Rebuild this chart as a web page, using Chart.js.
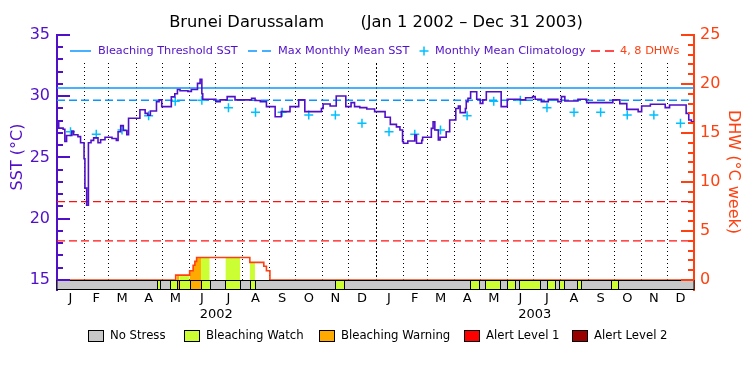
<!DOCTYPE html>
<html>
<head>
<meta charset="utf-8">
<script src="https://cdn.jsdelivr.net/npm/chart.js@4.4.0/dist/chart.umd.min.js"></script>
<style>
  html, body { margin: 0; padding: 0; background: #fff; }
  #wrap { width: 750px; height: 375px; }
</style>
</head>
<body>
<div id="wrap"><canvas id="chart" width="750" height="375"></canvas></div>
<script>
// ---- data ----
const titleText = 'Brunei Darussalam       (Jan 1 2002 \u2013 Dec 31 2003)';
const monthLetters = ['J', 'F', 'M', 'A', 'M', 'J', 'J', 'A', 'S', 'O', 'N', 'D'];
const yearLabels = ['2002', '2003'];
const sstTicks = [15, 20, 25, 30, 35];
const dhwTicks = [0, 5, 10, 15, 20, 25];

// monthly mean climatology (same each year)
const climatology = [27.1, 26.9, 27.25, 28.4, 29.6, 29.67, 29.07, 28.7, 28.7, 28.47, 28.47, 27.8];
const maxMonthlyMean = 29.67;
const bleachingThreshold = 30.67;
const dhwLevels = [4, 8];

// SST (day since Jan 1 2002, value holding from that day)
const sstDays = [0, 2, 7, 9, 11, 17, 19, 24, 27, 31, 32, 34, 36, 39, 42, 47, 50, 55, 63, 68,
  70, 73, 76, 80, 82, 95, 101, 104, 107, 114, 117, 120, 131, 135, 138, 141, 150, 154, 161, 164,
  166, 167, 182, 187, 195, 204, 223, 227, 233, 240, 250, 257, 267, 277, 284, 303, 305, 313, 320, 331,
  337, 341, 347, 355, 364, 376, 382, 389, 393, 396, 397, 402, 410, 412, 418, 419, 429, 431, 433, 437,
  439, 446, 450, 457, 460, 462, 468, 469, 471, 474, 481, 485, 488, 492, 509, 516, 531, 537, 545, 548,
  555, 563, 574, 578, 582, 597, 607, 637, 645, 653, 666, 670, 680, 697, 702, 721, 724, 727, 730];
const sstValues = [27.9, 27.4, 27.3, 26.3, 26.8, 27.15, 26.85, 26.7, 26.2, 24.9, 22.5, 21.1, 26.2, 26.4, 26.6, 26.2, 26.45, 26.65, 26.55, 26.4,
  27.1, 27.6, 27.2, 26.85, 28.2, 28.9, 28.6, 28.45, 28.8, 29.55, 29.7, 29.15, 29.95, 30.2, 30.55, 30.45, 30.4, 30.55, 31.05, 31.38,
  30.2, 29.75, 29.56, 29.7, 29.97, 29.7, 29.84, 29.65, 29.56, 29.15, 28.33, 28.74, 29.15, 29.7, 28.74, 29.0, 29.37, 29.2, 30.02, 29.15,
  29.48, 29.15, 29.07, 28.96, 28.74, 28.28, 27.7, 27.5, 27.24, 26.3, 26.16, 26.35, 26.84, 26.16, 26.4, 26.65, 27.38, 27.92, 27.24, 26.43,
  26.65, 27.1, 28.06, 29.0, 29.2, 28.66, 29.0, 29.56, 29.84, 30.37, 29.75, 29.42, 29.7, 30.37, 29.15, 29.75, 29.7, 29.88, 29.97, 29.75,
  29.56, 29.75, 29.56, 29.97, 29.61, 29.75, 29.48, 29.7, 29.4, 28.93, 28.74, 29.2, 29.34, 29.07, 29.28, 28.6, 28.06, 27.92, 27.92];

// degree heating weeks
const dhwDays = [0, 136, 152, 156, 158, 160, 221, 237, 240, 244, 730];
const dhwValues = [0, 0.5, 0.95, 1.5, 1.9, 2.3, 1.8, 1.4, 0.95, 0, 0];

// stress level periods (1 = watch, 2 = warning); everything else is No Stress
const stressStart = [115, 130, 137, 140, 152, 165, 193, 221, 319, 473, 491, 516, 530, 561, 575, 596, 635];
const stressEnd = [118, 137, 140, 152, 165, 175, 210, 227, 329, 484, 508, 525, 553, 571, 581, 600, 643];
const stressLevel = [1, 1, 2, 1, 2, 1, 1, 1, 1, 1, 1, 1, 1, 1, 1, 1, 1];
const stressNames = ['No Stress', 'Bleaching Watch', 'Bleaching Warning', 'Alert Level 1', 'Alert Level 2'];

// ---- styles ----
const FONT = '"DejaVu Sans", sans-serif';
const PURPLE = '#5010c8';
const ORANGE = '#ff4010';
const THRESH = '#0a96ff';
const CLIM = '#00c0ff';
const RED = '#ff1010';
const stressColors = ['#c8c8c8', '#ccff33', '#ffaa00', '#ff0000', '#990000'];

// calendar helpers
const day0 = Date.UTC(2002, 0, 1);
const monthStarts = [];
for (let m = 0; m <= 24; m++) monthStarts.push((Date.UTC(2002, m, 1) - day0) / 86400000);
const totalDays = monthStarts[24];
const monthMids = monthStarts.slice(0, 24).map((d, i) => (d + monthStarts[i + 1]) / 2);
const yearMids = [0, 1].map(y => (monthStarts[y * 12] + monthStarts[y * 12 + 12]) / 2);

function dhwAt(t) {
  let v = 0;
  for (let i = 0; i < dhwDays.length; i++) if (dhwDays[i] <= t) v = dhwValues[i];
  return v;
}
function dhwBefore(t) {
  let v = 0;
  for (let i = 0; i < dhwDays.length; i++) if (dhwDays[i] < t) v = dhwValues[i];
  return v;
}

const sstData = sstDays.map((d, i) => ({ x: d, y: sstValues[i] }));
const dhwData = dhwDays.map((d, i) => ({ x: d, y: dhwValues[i] }));
const climData = monthMids.map((d, i) => ({ x: d, y: climatology[i % 12] }));

// fills under the DHW curve, coloured by stress level
const fillSets = stressStart.map((s, i) => {
  const e = stressEnd[i];
  const pts = [{ x: s, y: dhwAt(s) }];
  dhwDays.forEach((d, j) => { if (d > s && d < e) pts.push({ x: d, y: dhwValues[j] }); });
  pts.push({ x: e, y: dhwBefore(e) });
  return {
    type: 'line', data: pts, yAxisID: 'yDHW', stepped: true, fill: 'origin',
    backgroundColor: stressColors[stressLevel[i]], borderWidth: 0, pointRadius: 0, order: 10
  };
});

function flatLine(v) {
  return [{ x: 0, y: v }, { x: totalDays, y: v }];
}

const datasets = [
  { label: 'SST', data: sstData, yAxisID: 'ySST', stepped: true, borderColor: PURPLE, borderWidth: 1.6, pointRadius: 0, fill: false, order: 1 },
  { label: 'Monthly Mean Climatology', data: climData, yAxisID: 'ySST', showLine: false, pointStyle: 'cross', pointRadius: 4.5, pointBorderWidth: 1.5, pointBorderColor: CLIM, order: 2 },
  { label: 'DHW', data: dhwData, yAxisID: 'yDHW', stepped: true, borderColor: ORANGE, borderWidth: 1.6, pointRadius: 0, fill: false, order: 3 },
  { label: 'Bleaching Threshold SST', data: flatLine(bleachingThreshold), yAxisID: 'ySST', borderColor: THRESH, borderWidth: 1.5, pointRadius: 0, order: 4 },
  { label: 'Max Monthly Mean SST', data: flatLine(maxMonthlyMean), yAxisID: 'ySST', borderColor: THRESH, borderWidth: 1.5, borderDash: [8, 4], pointRadius: 0, order: 5 },
  ...dhwLevels.map(v => ({ label: v + ' DHW', data: flatLine(v), yAxisID: 'yDHW', borderColor: RED, borderWidth: 1.3, borderDash: [8, 4], pointRadius: 0, order: 6 })),
  ...fillSets
];

const decor = {
  id: 'decor',
  beforeDatasetsDraw(chart) {
    const { ctx, scales: { x, yDHW } } = chart;
    ctx.save();
    ctx.strokeStyle = '#000';
    ctx.lineWidth = 1;
    const yb = yDHW.getPixelForValue(0);
    monthStarts.slice(1, 24).forEach(d => {
      const px = Math.round(x.getPixelForValue(d)) + 0.5;
      ctx.setLineDash(d === monthStarts[12] ? [2, 2] : [1, 3]);
      ctx.beginPath();
      ctx.moveTo(px, 63);
      ctx.lineTo(px, yb);
      ctx.stroke();
    });
    ctx.restore();
  },
  afterDatasetsDraw(chart) {
    const { ctx, chartArea: a, scales: { x, ySST, yDHW } } = chart;
    ctx.save();
    // stress bar
    const y0 = Math.round(yDHW.getPixelForValue(0)) + 0.5;
    const y1 = Math.round(a.bottom) - 0.5;
    ctx.fillStyle = stressColors[0];
    ctx.fillRect(a.left, y0, a.right - a.left, y1 - y0);
    ctx.strokeStyle = '#000';
    ctx.lineWidth = 1;
    stressStart.forEach((s, i) => {
      const xs = Math.round(x.getPixelForValue(s)) + 0.5;
      const xe = Math.round(x.getPixelForValue(stressEnd[i])) + 0.5;
      ctx.fillStyle = stressColors[stressLevel[i]];
      ctx.fillRect(xs, y0, xe - xs, y1 - y0);
      ctx.strokeRect(xs, y0, xe - xs, y1 - y0);
    });
    ctx.strokeRect(a.left, y0, a.right - a.left, y1 - y0);

    // inward axis ticks
    ctx.lineWidth = 2;
    ctx.strokeStyle = PURPLE;
    for (let v = 15; v <= 35; v++) {
      const py = Math.round(ySST.getPixelForValue(v));
      ctx.beginPath();
      ctx.moveTo(a.left, py);
      ctx.lineTo(a.left + (v % 5 === 0 ? 13 : 6), py);
      ctx.stroke();
    }
    ctx.strokeStyle = ORANGE;
    for (let v = 0; v <= 25; v++) {
      const py = Math.round(yDHW.getPixelForValue(v));
      ctx.beginPath();
      ctx.moveTo(a.right, py);
      ctx.lineTo(a.right - (v % 5 === 0 ? 13 : 6), py);
      ctx.stroke();
    }

    // title
    ctx.fillStyle = '#000';
    ctx.textBaseline = 'middle';
    ctx.textAlign = 'center';
    ctx.font = '16.3px ' + FONT;
    ctx.fillText(titleText, 376, 23);

    // year labels
    ctx.font = '13px ' + FONT;
    yearLabels.forEach((t, i) => ctx.fillText(t, x.getPixelForValue(yearMids[i]), 315));

    // axis titles
    ctx.font = '16px ' + FONT;
    ctx.fillStyle = PURPLE;
    ctx.save();
    ctx.translate(18, 157);
    ctx.rotate(-Math.PI / 2);
    ctx.fillText('SST (\u00b0C)', 0, 0);
    ctx.restore();
    ctx.fillStyle = ORANGE;
    ctx.save();
    ctx.translate(733, 172);
    ctx.rotate(Math.PI / 2);
    ctx.fillText('DHW (\u00b0C week)', 0, 0);
    ctx.restore();

    // top legend
    const ly = 51;
    ctx.textAlign = 'left';
    ctx.font = '11.3px ' + FONT;
    ctx.lineWidth = 1.5;
    ctx.strokeStyle = THRESH;
    ctx.beginPath(); ctx.moveTo(70, ly); ctx.lineTo(91, ly); ctx.stroke();
    ctx.setLineDash([9, 5]);
    ctx.beginPath(); ctx.moveTo(248, ly); ctx.lineTo(272, ly); ctx.stroke();
    ctx.strokeStyle = RED;
    ctx.beginPath(); ctx.moveTo(591, ly); ctx.lineTo(615, ly); ctx.stroke();
    ctx.setLineDash([]);
    ctx.strokeStyle = CLIM;
    ctx.beginPath();
    ctx.moveTo(419.5, ly); ctx.lineTo(428.5, ly);
    ctx.moveTo(424, ly - 4.5); ctx.lineTo(424, ly + 4.5);
    ctx.stroke();
    ctx.fillStyle = PURPLE;
    ctx.fillText('Bleaching Threshold SST', 98, ly);
    ctx.fillText('Max Monthly Mean SST', 278, ly);
    ctx.fillText('Monthly Mean Climatology', 435, ly);
    ctx.fillStyle = ORANGE;
    ctx.fillText(dhwLevels.join(', ') + ' DHWs', 620, ly);

    // bottom legend
    const boxX = [88, 184, 319, 464, 572];
    ctx.font = '11.7px ' + FONT;
    ctx.lineWidth = 1;
    ctx.strokeStyle = '#000';
    stressNames.forEach((n, i) => {
      ctx.fillStyle = stressColors[i];
      ctx.fillRect(boxX[i] + 0.5, 330.5, 15, 11);
      ctx.strokeRect(boxX[i] + 0.5, 330.5, 15, 11);
      ctx.fillStyle = '#000';
      ctx.fillText(n, boxX[i] + 22, 336);
    });
    ctx.restore();
  }
};

new Chart(document.getElementById('chart'), {
  type: 'line',
  data: { datasets },
  plugins: [decor],
  options: {
    responsive: false,
    animation: false,
    devicePixelRatio: 1,
    layout: { padding: { top: 35, left: 0, right: 0, bottom: 0 } },
    plugins: { legend: { display: false }, tooltip: { enabled: false }, title: { display: false } },
    scales: {
      x: {
        type: 'linear', min: 0, max: totalDays,
        afterBuildTicks: s => { s.ticks = monthMids.map(v => ({ value: v })); },
        afterFit: s => { s.height = 85; },
        ticks: {
          autoSkip: false, maxRotation: 0, padding: 1, color: '#000',
          font: { family: FONT, size: 13 },
          callback: (v, i) => monthLetters[i % 12]
        },
        grid: { display: false, drawTicks: false },
        border: { display: false }
      },
      ySST: {
        position: 'left', min: 14.18, max: 35,
        afterBuildTicks: s => { s.ticks = sstTicks.map(v => ({ value: v })); },
        afterFit: s => { s.width = 57; },
        ticks: { color: PURPLE, padding: 7, font: { family: FONT, size: 16 } },
        grid: { display: false, drawTicks: false },
        border: { color: PURPLE, width: 2 }
      },
      yDHW: {
        position: 'right', min: -1.02, max: 25,
        afterBuildTicks: s => { s.ticks = dhwTicks.map(v => ({ value: v })); },
        afterFit: s => { s.width = 56; },
        ticks: { color: ORANGE, padding: 6, font: { family: FONT, size: 16 } },
        grid: { display: false, drawTicks: false },
        border: { color: ORANGE, width: 2 }
      }
    }
  }
});
</script>
</body>
</html>
